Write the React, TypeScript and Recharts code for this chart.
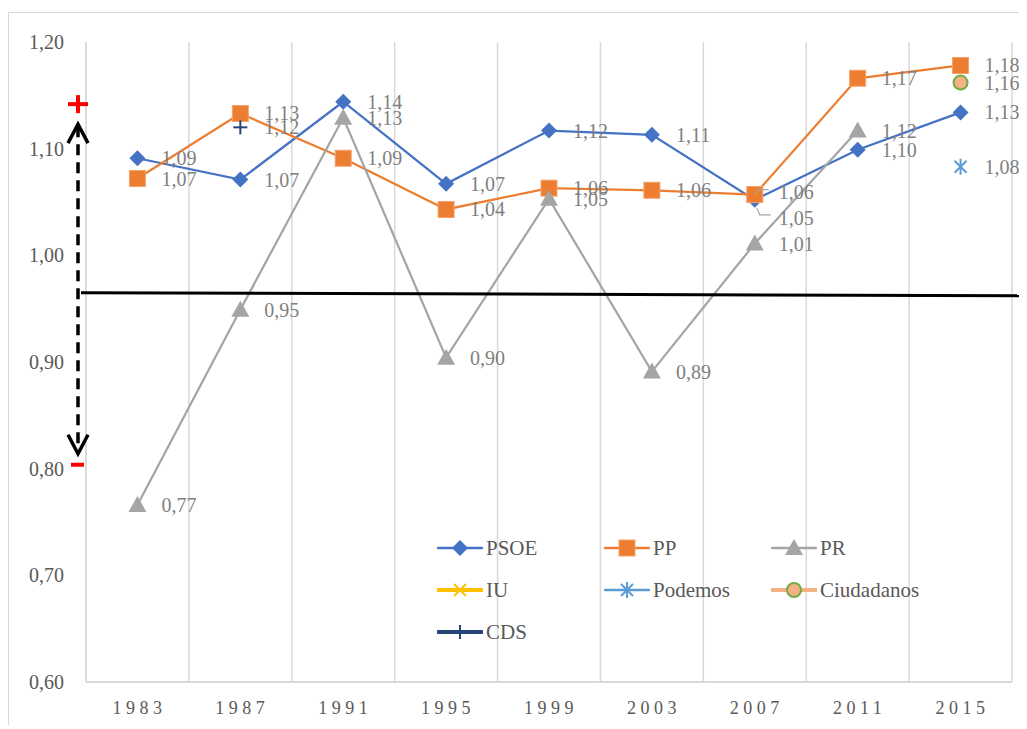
import { LineChart, Line, XAxis, YAxis, CartesianGrid, LabelList } from "recharts";

// values
const years = ["1983", "1987", "1991", "1995", "1999", "2003", "2007", "2011", "2015"];
const psoe = [1.091, 1.071, 1.144, 1.067, 1.117, 1.113, 1.052, 1.099, 1.134];
const pp = [1.072, 1.133, 1.091, 1.043, 1.063, 1.061, 1.057, 1.166, 1.178];
const pr = [0.766, 0.949, 1.129, 0.904, 1.053, 0.891, 1.011, 1.117, null];
const iu = [null, null, null, null, null, null, null, null, null];
const podemos = [null, null, null, null, null, null, null, null, 1.083];
const ciudadanos = [null, null, null, null, null, null, null, null, 1.162];
const cds = [null, 1.12, null, null, null, null, null, null, null];
const yTicks = [0.6, 0.7, 0.8, 0.9, 1.0, 1.1, 1.2];

const FONT = '"Liberation Serif", "Times New Roman", serif';
const W = 1019;
const H = 716;
const MARGIN = { top: 29, right: 16, bottom: 17, left: 0 };
const PLOT_BOTTOM = H - MARGIN.bottom - 30;

type Shape = "diamond" | "square" | "triangle" | "x" | "asterisk" | "circle" | "plus";

const series: { key: string; name: string; color: string; lineW: number; shape: Shape; values: (number | null)[] }[] = [
  { key: "psoe", name: "PSOE", color: "#4472C4", lineW: 2.5, shape: "diamond", values: psoe },
  { key: "pp", name: "PP", color: "#ED7D31", lineW: 2.5, shape: "square", values: pp },
  { key: "pr", name: "PR", color: "#A5A5A5", lineW: 2.5, shape: "triangle", values: pr },
  { key: "iu", name: "IU", color: "#FFC000", lineW: 4, shape: "x", values: iu },
  { key: "podemos", name: "Podemos", color: "#5B9BD5", lineW: 2.5, shape: "asterisk", values: podemos },
  { key: "ciudadanos", name: "Ciudadanos", color: "#F4B183", lineW: 4, shape: "circle", values: ciudadanos },
  { key: "cds", name: "CDS", color: "#264478", lineW: 4, shape: "plus", values: cds },
];

const data = years.map((year, i) => {
  const row: Record<string, any> = { year };
  series.forEach((s) => (row[s.key] = s.values[i]));
  return row;
});

const fmt = (v: number) => v.toFixed(2).replace(".", ",");

function Marker({ shape, cx, cy, color }: { shape: Shape; cx: number; cy: number; color: string }) {
  switch (shape) {
    case "diamond":
      return <polygon points={`${cx},${cy - 8} ${cx + 8},${cy} ${cx},${cy + 8} ${cx - 8},${cy}`} fill={color} />;
    case "square":
      return <rect x={cx - 8} y={cy - 8} width={16} height={16} fill={color} stroke="#F4A36C" strokeWidth={1} />;
    case "triangle":
      return <polygon points={`${cx},${cy - 9} ${cx + 9},${cy + 7} ${cx - 9},${cy + 7}`} fill={color} />;
    case "circle":
      return <circle cx={cx} cy={cy} r={7} fill={color} stroke="#70AD47" strokeWidth={2} />;
    case "x":
      return (
        <g stroke={color} strokeWidth={2}>
          <line x1={cx - 6} y1={cy - 6} x2={cx + 6} y2={cy + 6} />
          <line x1={cx - 6} y1={cy + 6} x2={cx + 6} y2={cy - 6} />
        </g>
      );
    case "asterisk":
      return (
        <g stroke={color} strokeWidth={2}>
          <line x1={cx} y1={cy - 8} x2={cx} y2={cy + 8} />
          <line x1={cx - 6} y1={cy - 6} x2={cx + 6} y2={cy + 6} />
          <line x1={cx - 6} y1={cy + 6} x2={cx + 6} y2={cy - 6} />
        </g>
      );
    case "plus":
      return (
        <g stroke={color} strokeWidth={2}>
          <line x1={cx} y1={cy - 7} x2={cx} y2={cy + 7} />
          <line x1={cx - 7} y1={cy} x2={cx + 7} y2={cy} />
        </g>
      );
  }
  return null;
}

const makeDot = (shape: Shape, color: string) => (p: any) => {
  if (p.cy == null || p.value == null) return <g key={p.key} />;
  return (
    <g key={p.key}>
      <Marker shape={shape} cx={p.cx} cy={p.cy} color={color} />
    </g>
  );
};

// labels moved by hand in the original (2007 PSOE / PP)
const labelShift: Record<string, Record<number, { dy: number; leader: string }>> = {
  psoe: { 6: { dy: 18, leader: "2,8 5,15 16,15" } },
  pp: { 6: { dy: -3, leader: "1,-1 4,-5 14,-5" } },
};

const makeLabel = (key: string) => (p: any) => {
  if (p.value == null || p.x == null || p.y == null) return null;
  const shift = labelShift[key]?.[p.index];
  const dy = shift ? shift.dy : 0;
  return (
    <g>
      {shift && (
        <polyline
          points={shift.leader
            .split(" ")
            .map((pt) => {
              const [a, b] = pt.split(",").map(Number);
              return `${p.x + a},${p.y + b}`;
            })
            .join(" ")}
          fill="none"
          stroke="#A6A6A6"
          strokeWidth={1.2}
        />
      )}
      <text x={p.x + 24} y={p.y + dy} dominantBaseline="central" fill="#7F7F7F" fontSize={20} fontFamily={FONT}>
        {fmt(p.value)}
      </text>
    </g>
  );
};

const XTick = (p: any) => (
  <text x={p.x + 2} y={p.y + 30} textAnchor="middle" fill="#595959" fontSize={18} fontFamily={FONT} style={{ letterSpacing: 4.5 }}>
    {p.payload.value}
  </text>
);

const YTick = (p: any) => (
  <text x={p.x} y={p.y} textAnchor="end" dominantBaseline="central" fill="#595959" fontSize={20} fontFamily={FONT}>
    {fmt(p.payload.value)}
  </text>
);

const yPix = (v: number) => MARGIN.top + ((1.2 - v) / 0.6) * (PLOT_BOTTOM - MARGIN.top);

function Annotations() {
  const ax = 69;
  const top = yPix(1.123);
  const bottom = yPix(0.814);
  return (
    <svg width={W} height={H} style={{ position: "absolute", left: 0, top: 0, pointerEvents: "none" }}>
      {/* threshold line */}
      <line x1={72} y1={yPix(0.965)} x2={W} y2={yPix(0.962)} stroke="#000" strokeWidth={3} />
      {/* double arrow */}
      <line x1={ax} y1={top + 2} x2={ax} y2={bottom - 2} stroke="#000" strokeWidth={3.5} strokeDasharray="11 7" />
      <polyline points={`${ax - 10},${top + 19} ${ax},${top} ${ax + 10},${top + 19}`} fill="none" stroke="#000" strokeWidth={3.5} />
      <polyline points={`${ax - 10},${bottom - 19} ${ax},${bottom} ${ax + 10},${bottom - 19}`} fill="none" stroke="#000" strokeWidth={3.5} />
      <g stroke="#FF0000" strokeWidth={4}>
        <line x1={ax - 10} y1={top - 20} x2={ax + 10} y2={top - 20} />
        <line x1={ax} y1={top - 29} x2={ax} y2={top - 11} />
        <line x1={ax - 7} y1={bottom + 11} x2={ax + 6} y2={bottom + 11} />
      </g>
    </svg>
  );
}

function LegendBox() {
  return (
    <div
      style={{
        position: "absolute",
        left: 428,
        top: 514,
        width: 590,
        display: "grid",
        gridTemplateColumns: "167px 167px 220px",
        gridAutoRows: "42px",
        fontFamily: FONT,
        fontSize: 21,
        color: "#595959",
      }}
    >
      {series.map((s) => (
        <div key={s.key} style={{ display: "flex", alignItems: "center" }}>
          <svg width={46} height={20} style={{ marginRight: 3 }}>
            <line x1={1} y1={10} x2={45} y2={10} stroke={s.color} strokeWidth={s.lineW === 4 ? 4 : 2.5} strokeLinecap="round" />
            <Marker shape={s.shape} cx={23} cy={10} color={s.color} />
          </svg>
          <span>{s.name}</span>
        </div>
      ))}
    </div>
  );
}

export default function App() {
  return (
    <div
      style={{
        position: "relative",
        top: 4,
        width: W,
        height: H,
        borderTop: "1px solid #d9d9d9",
        borderLeft: "1px solid #d9d9d9",
        background: "#fff",
      }}
    >
      <LineChart width={W} height={H} data={data} margin={MARGIN}>
        <CartesianGrid
          horizontal={false}
          stroke="#d9d9d9"
          strokeWidth={1.5}
          verticalCoordinatesGenerator={({ offset }: any) =>
            Array.from({ length: years.length + 1 }, (_, i) => offset.left + (i * offset.width) / years.length)
          }
        />
        <XAxis
          dataKey="year"
          scale="band"
          height={30}
          tickLine={false}
          tickSize={0}
          axisLine={{ stroke: "#d9d9d9", strokeWidth: 2 }}
          tick={<XTick />}
          interval={0}
        />
        <YAxis
          domain={[0.6, 1.2]}
          ticks={yTicks}
          width={77}
          tickLine={false}
          tickSize={0}
          tickMargin={22}
          axisLine={{ stroke: "#d9d9d9", strokeWidth: 1.5 }}
          tick={<YTick />}
          interval={0}
        />
        {series.map((s) => (
          <Line
            key={s.key}
            dataKey={s.key}
            name={s.name}
            stroke={s.color}
            strokeWidth={2.25}
            isAnimationActive={false}
            dot={makeDot(s.shape, s.color)}
            activeDot={false}
            connectNulls={false}
          >
            <LabelList dataKey={s.key} content={makeLabel(s.key)} />
          </Line>
        ))}
      </LineChart>
      <Annotations />
      <LegendBox />
    </div>
  );
}
